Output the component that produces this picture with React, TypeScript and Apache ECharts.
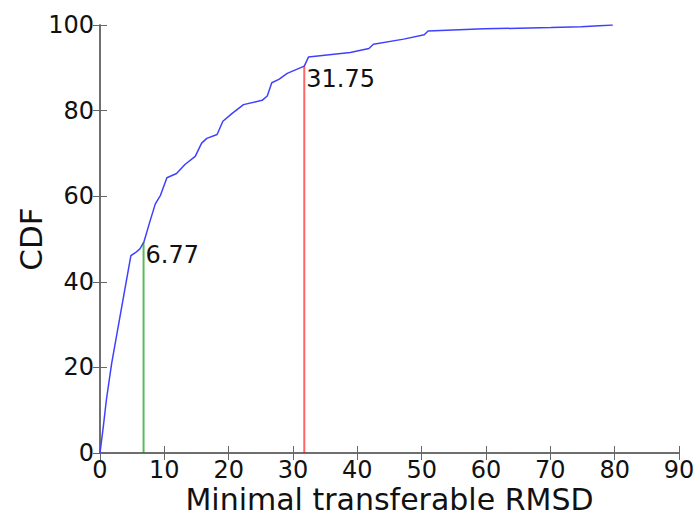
import React, { useEffect, useRef } from "react";
import * as echarts from "echarts";

const cdfX = [0, 0.5, 1.0, 1.8, 3.3, 4.8, 5.5, 6.2, 6.8, 7.8, 8.6, 9.4, 10.4, 11.9, 13.2, 14.8, 15.8, 16.6, 18.2, 19.1, 20.5, 22.3, 25.2, 26.0, 26.7, 27.8, 29.1, 31.75, 32.4, 38.9, 41.8, 42.5, 47.2, 50.4, 51.0, 59.7, 70.1, 74.8, 79.7];
const cdfY = [0, 6, 12.5, 20.8, 33.5, 46.1, 46.8, 47.7, 49.2, 54.3, 58.2, 60.2, 64.3, 65.3, 67.4, 69.3, 72.4, 73.5, 74.4, 77.5, 79.3, 81.4, 82.4, 83.4, 86.5, 87.3, 88.7, 90.4, 92.5, 93.6, 94.5, 95.5, 96.7, 97.7, 98.6, 99.1, 99.4, 99.6, 100];

const markerX = [6.77, 31.75];
const markerTop = [49.2, 90.4];
const markerLabels = ["6.77", "31.75"];
const markerColors = ["rgba(0,150,0,0.65)", "rgba(255,0,0,0.6)"];

const xTitle = "Minimal transferable RMSD";
const yTitle = "CDF";

const FONT = "DejaVu Sans";

export default function App() {
  const ref = useRef<HTMLDivElement>(null);
  useEffect(() => {
    document.body.style.margin = "0";
    const chart = echarts.init(ref.current!, null, { renderer: "svg" });
    const axisLine = { show: true, lineStyle: { color: "#666", width: 1.5 } };
    const tick = { show: true, inside: true, length: 7, lineStyle: { color: "#666", width: 1 } };
    const lbl = { fontFamily: FONT, fontSize: 24, color: "#111" };
    chart.setOption({
      animation: false,
      grid: { left: 100, right: 18, top: 25, bottom: 63, outerBoundsMode: "none", containLabel: false },
      xAxis: [
        {
          type: "value", min: 0, max: 90, interval: 10, position: "bottom",
          axisLine, axisTick: tick, splitLine: { show: false },
          axisLabel: { ...lbl, margin: 5 },
          name: xTitle, nameLocation: "middle", nameGap: 33, nameMoveOverlap: false,
          nameTextStyle: { fontFamily: FONT, fontSize: 30, lineHeight: 26, color: "#111", verticalAlign: "top" },
        },
        {
          type: "value", min: 0, max: 90, interval: 10, position: "top",
          axisLine, axisTick: tick, splitLine: { show: false }, axisLabel: { show: false },
        },
      ],
      yAxis: [
        {
          type: "value", min: 0, max: 100, interval: 20, position: "left",
          axisLine, axisTick: tick, splitLine: { show: false },
          axisLabel: { ...lbl, margin: 6 },
          name: yTitle, nameLocation: "middle", nameGap: 54, nameMoveOverlap: false,
          nameTextStyle: { fontFamily: FONT, fontSize: 31, color: "#111" },
        },
        {
          type: "value", min: 0, max: 100, interval: 20, position: "right",
          axisLine, axisTick: tick, splitLine: { show: false }, axisLabel: { show: false },
        },
      ],
      series: [
        {
          type: "line", xAxisIndex: 0, yAxisIndex: 0, symbol: "none",
          data: cdfX.map((x, i) => [x, cdfY[i]]),
          lineStyle: { color: "#4040ff", width: 1.5 },
        },
        ...markerX.map((x, i) => ({
          type: "line", xAxisIndex: 0, yAxisIndex: 0, symbol: "none",
          data: [[x, 0], [x, markerTop[i]]],
          lineStyle: { color: markerColors[i], width: 2 },
        })),
      ],
    });
    const texts = markerX.map((x, i) => {
      const p = chart.convertToPixel({ xAxisIndex: 0, yAxisIndex: 0 }, [x, markerTop[i]]) as number[];
      return {
        type: "text", x: p[0] + 2, y: p[1] + 1,
        style: { text: markerLabels[i], fontFamily: FONT, fontSize: 24, fill: "#111", textAlign: "left", textVerticalAlign: "top" },
      };
    });
    chart.setOption({ graphic: texts });
    return () => chart.dispose();
  }, []);
  return <div ref={ref} style={{ width: 697, height: 516, position: "absolute", left: 0, top: 0 }} />;
}
